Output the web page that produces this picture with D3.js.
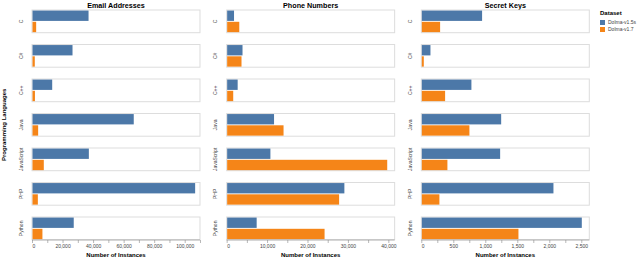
<!DOCTYPE html>
<html>
<head>
<meta charset="utf-8">
<script src="https://cdn.jsdelivr.net/npm/d3@7"></script>
<style>
  body { margin: 0; background: #fff; }
  svg { font-family: "Liberation Sans", Arial, sans-serif; }
</style>
</head>
<body>
<svg id="chart" width="640" height="258"></svg>
<script>
const languages = ['C', 'C#', 'C++', 'Java', 'JavaScript', 'PHP', 'Python'];
const piiTypes = ['Email Addresses', 'Phone Numbers', 'Secret Keys'];
const datasets = ['Dolma-v1.5s', 'Dolma-v1.7'];

// counts per language, in the order of `languages`
const emailV15 = [36700, 26200, 12900, 66300, 36900, 106500, 27000];
const emailV17 = [2400, 1500, 1600, 3700, 7400, 3500, 6500];
const phoneV15 = [1700, 3800, 2600, 11600, 10700, 29000, 7300];
const phoneV17 = [3000, 3550, 1500, 13950, 39600, 27700, 24100];
const secretV15 = [942, 135, 775, 1240, 1224, 2057, 2500];
const secretV17 = [286, 31, 364, 744, 400, 275, 1510];

const xMax = [110000, 41560, 2625];
const tickStep = [10000, 5000, 250];
const labelStep = [20000, 10000, 500];

const series = [
  [emailV15, emailV17],
  [phoneV15, phoneV17],
  [secretV15, secretV17]
];

const colors = d3.scaleOrdinal().domain(datasets).range(['#4c78a8', '#f58518']);

const svg = d3.select('#chart');

const colScale = d3.scaleBand().domain(piiTypes).range([32, 589.3]).paddingInner(0.137);
const rowScale = d3.scaleBand().domain(languages).range([10, 239.7]).paddingInner(0.342);
const barScale = d3.scaleBand().domain(datasets).range([0, rowScale.bandwidth()])
  .paddingInner(0.08).paddingOuter(0.05);

piiTypes.forEach((pii, c) => {
  const x0 = colScale(pii);
  const w = colScale.bandwidth();
  const x = d3.scaleLinear().domain([0, xMax[c]]).range([0, w]);
  const col = svg.append('g').attr('transform', `translate(${x0},0)`);

  col.append('text')
    .attr('x', w / 2).attr('y', 7.5)
    .attr('text-anchor', 'middle')
    .attr('font-size', 7.2).attr('font-weight', 'bold')
    .attr('fill', '#000')
    .text(pii);

  languages.forEach((lang, r) => {
    const cell = col.append('g').attr('transform', `translate(0,${rowScale(lang)})`);
    cell.append('rect')
      .attr('width', w).attr('height', rowScale.bandwidth())
      .attr('fill', '#fff').attr('stroke', '#ddd').attr('stroke-width', 1);

    datasets.forEach((ds, d) => {
      cell.append('rect')
        .attr('x', 0.5)
        .attr('y', barScale(ds))
        .attr('width', x(series[c][d][r]))
        .attr('height', barScale.bandwidth())
        .attr('fill', colors(ds));
    });

    cell.append('text')
      .attr('transform', `translate(-11,${rowScale.bandwidth() / 2}) rotate(-90)`)
      .attr('text-anchor', 'middle')
      .attr('dy', '0.35em')
      .attr('font-size', 5)
      .attr('fill', '#444')
      .text(lang);
  });

  // x axis
  const axisY = 240;
  const ticks = d3.range(0, xMax[c] + 1e-6, tickStep[c]);
  const axis = col.append('g').attr('transform', `translate(0,${axisY})`);
  axis.append('line').attr('x1', 0).attr('x2', w).attr('stroke', '#888').attr('stroke-width', 0.6);
  axis.selectAll('line.tick').data(ticks).join('line')
    .attr('class', 'tick')
    .attr('x1', d => x(d) + 0.5).attr('x2', d => x(d) + 0.5)
    .attr('y1', 0).attr('y2', 3)
    .attr('stroke', '#888').attr('stroke-width', 0.6);
  axis.selectAll('text').data(ticks.filter(t => Math.abs(t / labelStep[c] - Math.round(t / labelStep[c])) < 1e-9)).join('text')
    .attr('x', d => x(d) + 0.5).attr('y', 8.2)
    .attr('text-anchor', d => d === 0 ? 'start' : 'middle')
    .attr('font-size', 5)
    .attr('fill', '#444')
    .text(d => d3.format(',')(d));
  axis.append('text')
    .attr('x', w / 2).attr('y', 16.5)
    .attr('text-anchor', 'middle')
    .attr('font-size', 6).attr('font-weight', 'bold')
    .attr('fill', '#000')
    .text('Number of Instances');
});

// y title
svg.append('text')
  .attr('transform', `translate(6,${(10 + 239.7) / 2}) rotate(-90)`)
  .attr('text-anchor', 'middle')
  .attr('font-size', 6).attr('font-weight', 'bold')
  .text('Programming Languages');

// legend
const legend = svg.append('g').attr('transform', 'translate(600,0)');
legend.append('text')
  .attr('x', 0).attr('y', 14.5)
  .attr('font-size', 6).attr('font-weight', 'bold')
  .text('Dataset');
datasets.forEach((ds, i) => {
  legend.append('rect')
    .attr('x', 0).attr('y', 20 + i * 7)
    .attr('width', 5).attr('height', 5)
    .attr('fill', colors(ds));
  legend.append('text')
    .attr('x', 8).attr('y', 24.3 + i * 7)
    .attr('font-size', 5)
    .attr('fill', '#444')
    .text(ds);
});
</script>
</body>
</html>
